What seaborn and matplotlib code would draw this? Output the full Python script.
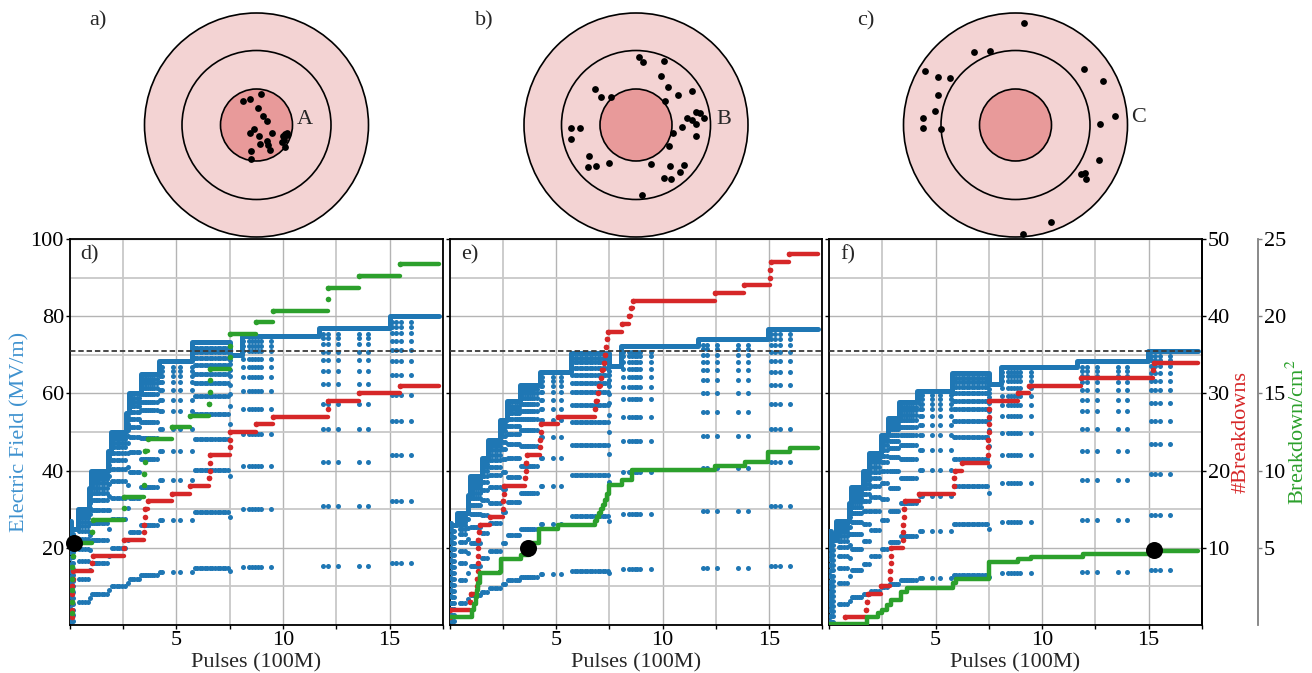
import numpy as np
import pandas as pd
import matplotlib
matplotlib.use("Agg")
import matplotlib.pyplot as plt
import seaborn as sns
from matplotlib.patches import Circle
from matplotlib.ticker import FixedLocator, MultipleLocator

sns.set_theme(style="white")
plt.rcParams["font.family"] = ["Liberation Serif", "DejaVu Serif"]
plt.rcParams["mathtext.fontset"] = "stix"

BLUE = "#1f77b4"
RED = "#d62728"
GREEN = "#2ca02c"

# ---------------- data: top targets (crater positions, px from centre, y up) ----------------
ring_radii = [112, 74.5, 36]
spots_a_x = [-13.2, -6.5, 4.8, 1.5, 6.5, 10.8, -2.2, -6.8, 2.2, 15.5, 10.2, 3.5, 11.8, 13.5,
             -5.2, -5.8, 26.2, 28.8, 30.8, 27.5, 25.5, 28.5, 30.2]
spots_a_y = [24.3, 25.7, 30.7, 17.3, 9.3, 4.3, -4.3, -8.3, -11.3, -8.0, -16.3, -19.0, -20.3, -25.3,
             -26.0, -34.3, -11.0, -9.0, -10.3, -15.0, -16.7, -22.3, -8.3]
spots_b_x = [2.7, 7.3, 28, 24.7, 32.3, 56.3, 41.7, -40.7, -35, -25.3, 28.7, 59.7, 63.7, 50.7,
             56.3, 68.3, 60, 45.7, -64.7, -55.7, -64.7, 37.3, 60.3, 33.3, -47.3, -48, -40, -27.3,
             15, 33.7, 47.7, 43.7, 28, 35, 6]
spots_b_y = [67.7, 63.3, 64.3, 48.7, 38.3, 34.3, 29.7, 36, 28, 28.3, 24.3, 13.3, 11.7, 6.7,
             5, 6.7, 1, -1.7, -3, -2.7, -14, -7.7, -11, -20.7, -31, -41.7, -40.7, -38,
             -39, -41, -39.7, -47.3, -53, -54.3, -69.7]
spots_c_x = [8.2, -41.8, -25.8, -90.5, -77.2, -65.8, 68.8, 87.2, -77.2, -80.2, -92.8, -92.2,
             -74.8, 99.5, 84.5, 83.2, 65.2, 69.8, 70.2, 35.2, 7.8]
spots_c_y = [102.3, 72.7, 73.7, 54.3, 48.3, 47, 55.7, 44, 30, 14, 7.3, -3.3,
             -3.7, 9, 1.3, -34.7, -49, -48, -53.7, -97.3, -108.7]

# ---------------- data: bottom panels ----------------
X_END = 17.3
# pulse counts (100M) where the field was ramped up again after a breakdown
dip_x = [0.03, 0.1, 0.17, 0.45, 0.58, 0.72, 0.85, 0.97,
         1.06, 1.14, 1.22, 1.3, 1.4, 1.5, 1.62, 1.74, 1.86, 1.98, 2.1, 2.22, 2.34, 2.47,
         2.6, 2.72, 2.84, 2.94, 3.04, 3.14, 3.24, 3.36, 3.44, 3.52, 3.6, 3.68, 3.76, 3.86,
         3.96, 4.08, 4.26, 4.34, 4.84, 5.2, 5.72, 5.86, 5.98, 6.1, 6.22, 6.34, 6.46, 6.58,
         6.7, 6.82, 6.94, 7.06, 7.18, 7.3, 7.42, 7.5, 8.12, 8.4, 8.55, 8.7, 8.82, 8.95,
         9.46, 11.88, 12.1, 12.58, 13.56, 14.0, 15.09, 15.29, 15.53, 16.0]
# ramp-up levels as a fraction of the field reached before
ramp_frac = [0.2, 0.4, 0.55, 0.66, 0.745, 0.81, 0.855, 0.89, 0.92, 0.945, 0.965, 0.98]
start_frac = [0.04, 0.1, 0.16, 0.22, 0.28, 0.34, 0.4, 0.46, 0.52, 0.58, 0.64, 0.7,
              0.76, 0.82, 0.88, 0.94]

# field envelope (MV/m)
env_d_x = [0, 0.06, 0.38, 0.93, 1.0, 1.79, 1.94, 2.64, 2.8, 3.35, 4.2, 5.76, 7.5, 8.06, 11.7, 15.0]
env_d_y = [27, 25, 30, 35.5, 40, 45, 50, 55, 60, 65, 68.3, 73.2, 70, 75, 77, 80]
env_e_x = [0, 0.06, 0.33, 0.85, 0.95, 1.5, 1.8, 2.36, 2.67, 3.29, 4.23, 5.71, 7.5, 8.05, 11.65, 14.97]
env_e_y = [26.4, 26, 29, 33.8, 38.5, 43.3, 48, 53.2, 58, 62.3, 65.5, 70.5, 67.2, 72.2, 74.1, 76.8]
env_f_x = [0, 0.09, 0.33, 0.95, 1.03, 1.58, 1.89, 2.43, 2.75, 3.29, 4.15, 5.79, 7.5, 8.05, 11.65, 14.97]
env_f_y = [24.3, 22.1, 27, 31.5, 35.7, 39.8, 44.6, 49.3, 53.6, 57.7, 60.7, 65.3, 62.4, 66.8, 68.3, 71.1]

# pulse count at which breakdown no. 1, 2, 3 ... happened
bd_d_x = [0.12, 0.125, 0.13, 0.135, 0.14, 0.145, 0.15, 1.07, 1.08, 2.55, 2.56, 3.5, 3.51, 3.52,
          3.53, 3.66, 4.82, 5.66, 6.55, 6.56, 6.57, 6.58, 7.5, 7.51, 7.52, 8.75, 9.54, 12.1,
          12.12, 13.55, 15.5]
bd_e_x = [0.0, 0.0, 0.95, 0.97, 1.28, 1.29, 1.3, 1.31, 1.32, 1.33, 1.34, 1.36, 1.42, 1.9,
          2.5, 2.51, 2.52, 2.53, 3.55, 3.57, 3.59, 3.62, 4.24, 4.25, 4.26, 4.28, 5.1, 6.82,
          6.88, 6.95, 7.02, 7.08, 7.15, 7.25, 7.3, 7.35, 7.4, 7.45, 8.1, 8.4, 8.5, 8.6,
          12.45, 13.85, 15.05, 15.07, 15.1, 15.95]
bd_f_x = [0.75, 1.75, 1.8, 1.85, 2.45, 2.85, 2.87, 2.89, 2.9, 2.92, 3.45, 3.47, 3.49, 3.5,
          3.52, 3.55, 4.2, 5.85, 5.87, 5.9, 6.25, 7.46, 7.47, 7.48, 7.49, 7.5, 7.51, 7.52,
          7.53, 8.85, 9.4, 11.8, 15.2, 15.25]

# breakdowns per cm^2
green_d_x = bd_d_x
green_d_y = [0.75, 1.5, 2.25, 3.0, 3.75, 4.5, 5.3, 6.05, 6.8, 7.55, 8.3, 9.05, 9.8, 10.55,
             11.3, 12.05, 12.8, 13.55, 14.3, 15.1, 15.85, 16.6, 17.35, 18.1, 18.85, 19.6,
             20.35, 21.1, 21.85, 22.6, 23.4]
green_e_x = [0.0, 1.05, 1.15, 1.22, 1.28, 1.33, 1.4, 2.34, 2.42, 3.36, 3.72, 4.21, 5.07, 6.8,
             6.9, 7.0, 7.1, 7.2, 7.3, 7.4, 7.47, 8.1, 8.55, 12.48, 13.88, 14.98, 16.0]
green_e_y = [0.5, 0.98, 1.38, 1.83, 2.25, 2.7, 3.35, 3.45, 4.25, 4.53, 5.3, 6.23, 6.48, 6.75,
             7.0, 7.25, 7.5, 7.75, 8.1, 8.5, 9.08, 9.4, 10.05, 10.3, 10.53, 11.23, 11.45]
green_f_x = [0, 1.76, 2.3, 2.47, 2.7, 2.93, 3.4, 3.64, 5.82, 5.98, 7.53, 8.86, 9.48, 11.9, 15.25]
green_f_y = [0.08, 0.55, 0.75, 1.0, 1.3, 1.65, 2.15, 2.38, 2.7, 3.0, 4.1, 4.25, 4.43, 4.58, 4.8]

# point where 5 breakdowns/cm^2 is reached
mark_x = [0.21, 3.66, 15.26]
mark_y = [5.3, 4.98, 4.83]

E_LIMIT = 71.1
panel_labels = ["d)", "e)", "f)"]

# ---------------- figure ----------------
W, H = 1312, 673
fig = plt.figure(figsize=(W / 100, H / 100), dpi=100)

# top targets
OUTER_FC = "#f3d3d3"
INNER_FC = "#e89a9a"
tops = [(256.5, spots_a_x, spots_a_y, "A", 40.5, 6, "a)", 89),
        (636.0, spots_b_x, spots_b_y, "B", 80.0, 6, "b)", 475),
        (1015.5, spots_c_x, spots_c_y, "C", 115.5, 7, "c)", 857)]
for cx, sx, sy, lab, ldx, ldy, plab, plx in tops:
    cax = fig.add_axes([(cx - 125) / W, (H - 250) / H, 250 / W, 250 / H])
    cax.set_xlim(-125, 125)
    cax.set_ylim(-125, 125)
    cax.set_aspect("equal")
    cax.axis("off")
    for r, fc in zip(ring_radii, [OUTER_FC, OUTER_FC, INNER_FC]):
        cax.add_patch(Circle((0, 0), r, facecolor=fc, edgecolor="black", lw=1.2, clip_on=False))
    sns.scatterplot(x=sx, y=sy, color="black", s=24, linewidth=0, ax=cax, zorder=5,
                    legend=False, clip_on=False)
    cax.text(ldx, ldy, lab, fontsize=16, ha="left", va="center")
    fig.text(plx / W, 1 - 21 / H, plab, fontsize=16, ha="left", va="center")


def env_at(xs, ex, ey):
    idx = np.searchsorted(np.asarray(ex), np.asarray(xs), side="right") - 1
    return np.asarray(ey)[np.clip(idx, 0, len(ey) - 1)]


AX_TOP, AX_BOT = 239, 625
bounds = [(69.5, 443), (450, 822), (829, 1202)]
envs = [(env_d_x, env_d_y), (env_e_x, env_e_y), (env_f_x, env_f_y)]
bds = [bd_d_x, bd_e_x, bd_f_x]
greens = [(green_d_x, green_d_y), (green_e_x, green_e_y), (green_f_x, green_f_y)]

for k, (L, R) in enumerate(bounds):
    ax = fig.add_axes([L / W, (H - AX_BOT) / H, (R - L) / W, (AX_BOT - AX_TOP) / H])
    ax.set_xlim(0, 17.5)
    ax.set_ylim(0, 100)
    ax.xaxis.set_major_locator(FixedLocator([5, 10, 15]))
    ax.xaxis.set_minor_locator(MultipleLocator(2.5))
    ax.yaxis.set_major_locator(FixedLocator([20, 40, 60, 80, 100]))
    ax.yaxis.set_minor_locator(MultipleLocator(10))
    ax.grid(which="major", color="#b4b4b4", lw=1.0)
    ax.grid(which="minor", color="#c8c8c8", lw=1.3)
    ax.set_axisbelow(True)
    for sp in ax.spines.values():
        sp.set_color("black")
        sp.set_linewidth(1.3)
    ax.tick_params(axis="both", which="both", direction="out", length=3, width=1,
                   labelsize=16, pad=1, bottom=True, left=True, colors="black")
    ax.tick_params(axis="y", which="minor", length=0)
    if k > 0:
        ax.tick_params(axis="y", labelleft=False)

    ex, ey = envs[k]
    rows = []
    for x0 in dip_x:
        lev = float(env_at([x0], ex, ey)[0])
        fr = start_frac if x0 < 0.2 else ramp_frac
        for f in fr:
            rows.append((x0, lev * f))
    df = pd.DataFrame(rows, columns=["pulses", "field"])
    sns.scatterplot(data=df, x="pulses", y="field", color=BLUE, s=13, linewidth=0,
                    ax=ax, legend=False, zorder=3)
    sns.lineplot(x=list(ex) + [X_END], y=list(ey) + [ey[-1]], drawstyle="steps-post",
                 estimator=None, sort=False, color=BLUE, lw=3.6, ax=ax, zorder=4)
    ax.axhline(E_LIMIT, color="#3a3a3a", lw=1.3, ls=(0, (3, 1.6)), zorder=6)
    ax.set_xlabel("Pulses (100M)", fontsize=16, labelpad=3)
    ax.set_ylabel("")
    ax.text(0.03, 0.985, panel_labels[k], transform=ax.transAxes, fontsize=16,
            ha="left", va="top")

    # breakdown count
    axr = ax.twinx()
    axr.set_ylim(0, 50)
    bx = bds[k]
    n = np.arange(1, len(bx) + 1)
    xe = list(bx[1:]) + [X_END]
    axr.hlines(n, bx, xe, color=RED, lw=3.2, capstyle="round", zorder=3)
    axr.scatter(bx, n, s=16, color=RED, linewidths=0, zorder=3)

    # breakdowns per cm^2
    axg = ax.twinx()
    axg.set_ylim(0, 25)
    gx, gy = greens[k]
    if k == 0:
        gxe = list(gx[1:]) + [X_END]
        axg.hlines(gy, gx, gxe, color=GREEN, lw=3.2, capstyle="round", zorder=3)
        axg.scatter(gx, gy, s=16, color=GREEN, linewidths=0, zorder=3)
    else:
        sns.lineplot(x=list(gx) + [X_END], y=list(gy) + [gy[-1]], drawstyle="steps-post",
                     estimator=None, sort=False, color=GREEN, lw=3.2, ax=axg, zorder=3)
    axg.scatter([mark_x[k]], [mark_y[k]], s=150, color="black", linewidths=0, zorder=10,
                clip_on=False)
    axg.set_ylabel("")

    if k == 0:
        ax.set_ylabel("Electric Field (MV/m)", fontsize=16, color="#3f92cf")
        ax.yaxis.set_label_coords(-0.107, 0.5)
    if k < 2:
        axr.axis("off")
        axg.axis("off")
    else:
        for s in ["left", "top", "bottom"]:
            axr.spines[s].set_visible(False)
            axg.spines[s].set_visible(False)
        axr.spines["right"].set_color("black")
        axr.spines["right"].set_linewidth(1.3)
        axr.set_yticks([10, 20, 30, 40, 50])
        axr.tick_params(axis="y", right=True, length=3, width=1, labelsize=16, pad=1,
                        colors="black")
        axr.set_ylabel("#Breakdowns", fontsize=16, color=RED)
        axr.yaxis.set_label_coords(1.08, 0.5)
        axg.spines["right"].set_position(("outward", 56 * 0.72))
        axg.spines["right"].set_color("#808080")
        axg.spines["right"].set_linewidth(1.3)
        axg.set_yticks([5, 10, 15, 20, 25])
        axg.tick_params(axis="y", right=True, length=3, width=1, labelsize=16, pad=1,
                        color="#808080", labelcolor="black")
        axg.set_ylabel("Breakdown/cm$^2$", fontsize=16, color=GREEN)
        axg.yaxis.set_label_coords(1.228, 0.5)

fig.savefig("out.png", dpi=100)
